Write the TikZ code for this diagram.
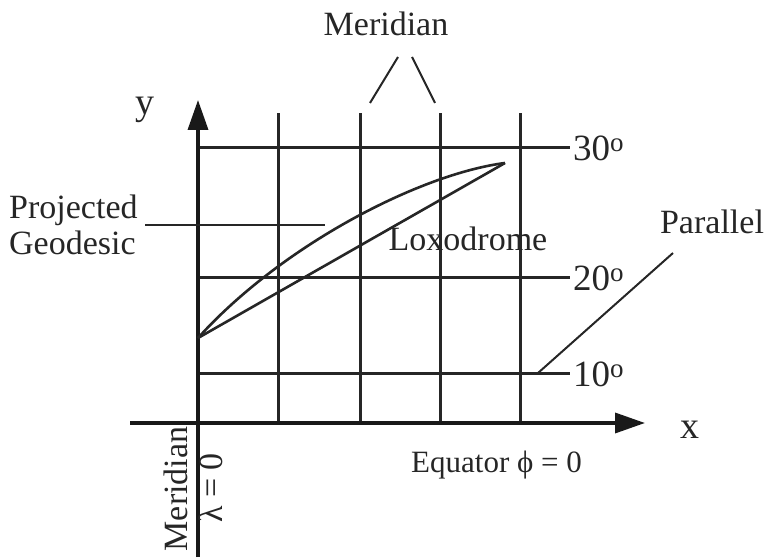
\documentclass[tikz,border=0pt]{standalone}
\usepackage{fontspec}
\setmainfont{Liberation Serif}
\usetikzlibrary{arrows.meta}
\newcommand{\dego}{\raisebox{9pt}{\fontsize{27}{27}\selectfont o}}
\begin{document}
\begin{tikzpicture}[x=1pt,y=1pt,
  grid/.style={line width=3pt,draw=black!85},
  axis/.style={line width=3.5pt,draw=black!90},
  lead/.style={line width=2pt,draw=black!85},
  curve/.style={line width=2.6pt,draw=black!85},
  lbl/.style={font=\fontsize{34}{38}\selectfont,inner sep=0pt,text=black!85},
  deg/.style={font=\fontsize{37}{38}\selectfont,inner sep=0pt,text=black!85},
  big/.style={font=\fontsize{38}{40}\selectfont,inner sep=0pt,text=black!85}]
\useasboundingbox (0,0) rectangle (765,557);
% grid
\foreach \gx in {278,360,440,520} \draw[grid] (\gx,134) -- (\gx,444);
\coordinate (h30) at (570,409);
\coordinate (h20) at (570,279);
\coordinate (h10) at (570,183);
\draw[grid] (198,409) -- (h30);
\draw[grid] (198,279) -- (h20);
\draw[grid] (198,183) -- (h10);
% axes
\draw[axis,-{Triangle[length=30pt,width=20pt]}] (198,0) -- (198,457);
\draw[axis,-{Triangle[length=30pt,width=20pt]}] (130,134) -- (645,134);
% curves
\coordinate (cs) at (198,219);
\coordinate (ce) at (505,394);
\draw[curve] (cs) -- (ce);
\draw[curve] (cs) .. controls (282,312) and (420,383) .. (ce);
% labels
\node[deg,anchor=west] (l30) at (573,409) {30\dego};
\node[deg,anchor=west] (l20) at (573,279) {20\dego};
\node[deg,anchor=west] (l10) at (573,183) {10\dego};
\node[big] (ylab) at (145,447) {y};
\node[big] (xlab) at (690,127) {x};
\node[lbl] (mtop) at (386,533) {Meridian};
\node[lbl] (loxo) at (468,318) {Loxodrome};
\node[lbl] (par) at (712,335) {Parallel};
\node[lbl,anchor=west,align=left] (pg) at (9,332) {Projected\\[-2pt]Geodesic};
\node[lbl,font=\fontsize{31}{34}\selectfont,anchor=west] (eq) at (411,92) {Equator ϕ = 0};
\node[lbl,rotate=90] (mer) at (176,68) {Meridian};
\node[lbl,rotate=90] (lam) at (211,69) {λ = 0};
% leaders
\coordinate (pg1) at (145,332);
\coordinate (pg2) at (325,332);
\draw[lead] (pg1) -- (pg2);
\coordinate (pa1) at (538,184);
\coordinate (pa2) at (673,304);
\draw[lead] (pa1) -- (pa2);
\coordinate (m1a) at (370,454);
\coordinate (m1b) at (398,500);
\coordinate (m2a) at (435,454);
\coordinate (m2b) at (412,500);
\draw[lead] (m1a) -- (m1b);
\draw[lead] (m2a) -- (m2b);
\end{tikzpicture}
\end{document}
